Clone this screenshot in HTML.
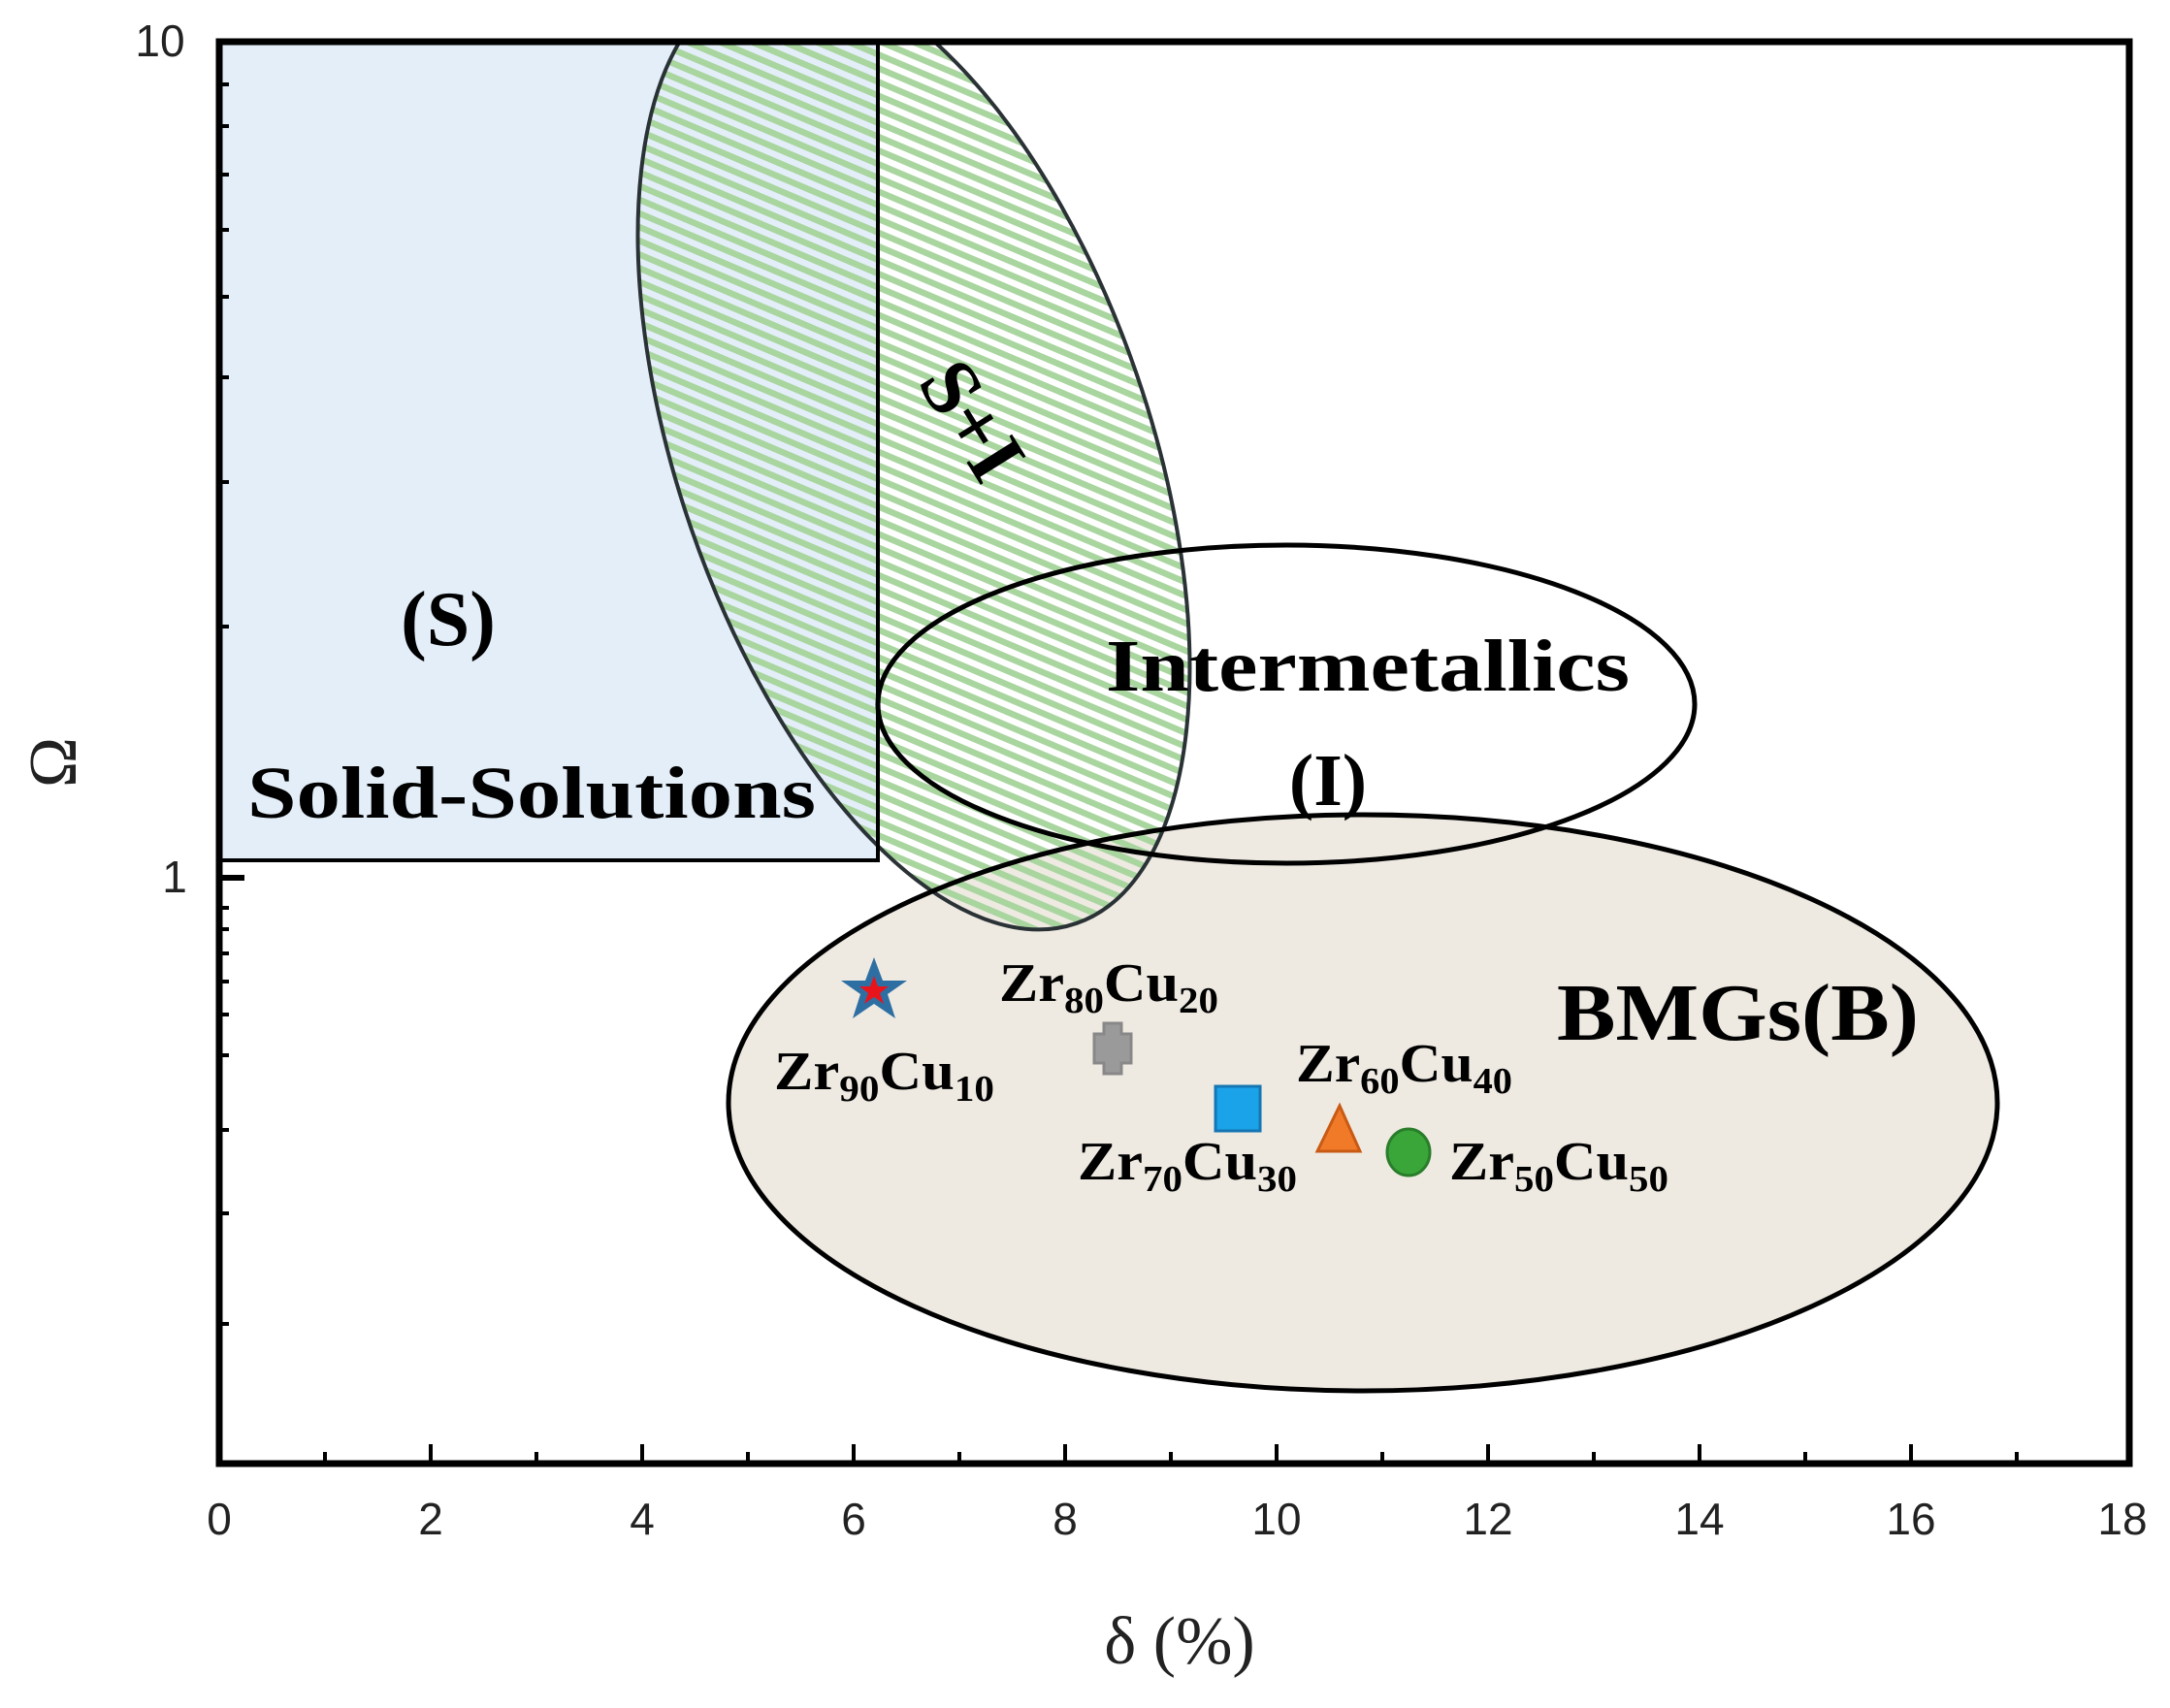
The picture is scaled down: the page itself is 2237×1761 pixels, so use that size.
<!DOCTYPE html>
<html><head><meta charset="utf-8"><style>html,body{margin:0;padding:0;background:#fff}svg{display:block}
.s{font-family:"Liberation Serif",serif;font-weight:bold}
.n{font-family:"Liberation Sans",sans-serif}
</style></head>
<body>
<svg width="2237" height="1761" viewBox="0 0 2237 1761" xmlns="http://www.w3.org/2000/svg">
<defs>
<pattern id="h" patternUnits="userSpaceOnUse" width="13" height="13" patternTransform="rotate(42)">
<rect width="13" height="6.5" fill="#a9d59f"/>
</pattern>
<clipPath id="pc"><rect x="226" y="43" width="1969" height="1466"/></clipPath>
</defs>
<rect x="226" y="43" width="679" height="844" fill="#e3eef9"/>
<ellipse cx="1405" cy="1137" rx="654" ry="297" fill="#eeeae2"/>
<g clip-path="url(#pc)">
<ellipse cx="942" cy="465" rx="243" ry="515" transform="rotate(-19 942 465)" fill="url(#h)" stroke="#2a3236" stroke-width="4"/>
</g>
<path d="M226 43 V887 H905 V43" fill="none" stroke="#000" stroke-width="4"/>
<ellipse cx="1405" cy="1137" rx="654" ry="297" fill="none" stroke="#000" stroke-width="5"/>
<ellipse cx="1326" cy="726" rx="421" ry="164" fill="none" stroke="#000" stroke-width="5"/>
<rect x="226" y="43" width="1969" height="1466" fill="none" stroke="#000" stroke-width="7"/>
<g stroke="#000" stroke-width="4">
<path d="M335 1509v-12M444 1509v-20M553 1509v-12M662 1509v-20M771 1509v-12M880 1509v-20M989 1509v-12M1098 1509v-20M1207 1509v-12M1316 1509v-20M1425 1509v-12M1534 1509v-20M1643 1509v-12M1752 1509v-20M1861 1509v-12M1970 1509v-20M2079 1509v-12"/>
<path d="M226 905h26" stroke-width="6"/>
<path d="M226 646h10M226 497h10M226 389h10M226 306h10M226 237h10M226 180h10M226 130h10M226 87h10"/>
<path d="M226 1165h10M226 1088h10M226 1046h10M226 1012h10M226 983h10M226 958h10M226 936h10M226 1251h10M226 1365h10"/>
</g>
<g class="n" font-size="46" fill="#222" text-anchor="middle">
<text x="226" y="1582">0</text><text x="444" y="1582">2</text><text x="662" y="1582">4</text><text x="880" y="1582">6</text><text x="1098" y="1582">8</text><text x="1316" y="1582">10</text><text x="1534" y="1582">12</text><text x="1752" y="1582">14</text><text x="1970" y="1582">16</text><text x="2188" y="1582">18</text>
<text x="165" y="58">10</text><text x="180" y="920">1</text>
</g>
<text x="1216" y="1715" style="font-family:'Liberation Serif',serif" font-size="70" text-anchor="middle" fill="#222">δ (%)</text>
<text transform="translate(78 786) rotate(-90)" style="font-family:'Liberation Serif',serif" font-size="70" text-anchor="middle" fill="#222">Ω</text>
<g class="s" fill="#000">
<text x="462" y="665" font-size="80" text-anchor="middle">(S)</text>
<text x="255" y="843" font-size="76" textLength="586" lengthAdjust="spacingAndGlyphs">Solid-Solutions</text>
<text x="1140" y="712" font-size="76" textLength="540" lengthAdjust="spacingAndGlyphs">Intermetallics</text>
<text x="1369" y="830" font-size="76" text-anchor="middle">(I)</text>
<text x="1605" y="1072" font-size="84" textLength="373" lengthAdjust="spacingAndGlyphs">BMGs(B)</text>
<text transform="translate(995 438) rotate(58)" font-size="84" text-anchor="middle" dominant-baseline="middle">S+I</text>
<g font-size="56">
<text x="798" y="1123" textLength="227" lengthAdjust="spacingAndGlyphs">Zr<tspan font-size="38" dy="12">90</tspan><tspan dy="-12">Cu</tspan><tspan font-size="38" dy="12">10</tspan></text>
<text x="1030" y="1032" textLength="226" lengthAdjust="spacingAndGlyphs">Zr<tspan font-size="38" dy="12">80</tspan><tspan dy="-12">Cu</tspan><tspan font-size="38" dy="12">20</tspan></text>
<text x="1336" y="1115" textLength="223" lengthAdjust="spacingAndGlyphs">Zr<tspan font-size="38" dy="12">60</tspan><tspan dy="-12">Cu</tspan><tspan font-size="38" dy="12">40</tspan></text>
<text x="1111" y="1216" textLength="226" lengthAdjust="spacingAndGlyphs">Zr<tspan font-size="38" dy="12">70</tspan><tspan dy="-12">Cu</tspan><tspan font-size="38" dy="12">30</tspan></text>
<text x="1494" y="1216" textLength="226" lengthAdjust="spacingAndGlyphs">Zr<tspan font-size="38" dy="12">50</tspan><tspan dy="-12">Cu</tspan><tspan font-size="38" dy="12">50</tspan></text>
</g>
</g>
<polygon points="901,987 910,1011 935,1011 915,1025 923,1050 901,1035 879,1050 887,1025 867,1011 892,1011" fill="#2e6fa3"/>
<polygon points="901,1006 905,1017 916,1017 907,1024 911,1035 901,1028 891,1035 895,1024 886,1017 897,1017" fill="#e8141c"/>
<path d="M1138 1055h18v11h10v30h-10v11h-18v-11h-10v-30h10z" fill="#9a9a9a" stroke="#888" stroke-width="3"/>
<rect x="1253" y="1120" width="46" height="46" fill="#1aa3e8" stroke="#1576b3" stroke-width="3"/>
<polygon points="1381,1140 1402,1187 1358,1187" fill="#f07a28" stroke="#c85a14" stroke-width="3"/>
<ellipse cx="1452" cy="1188" rx="22" ry="24" fill="#3aa63a" stroke="#2a7d2a" stroke-width="3"/>
</svg>
</body></html>
